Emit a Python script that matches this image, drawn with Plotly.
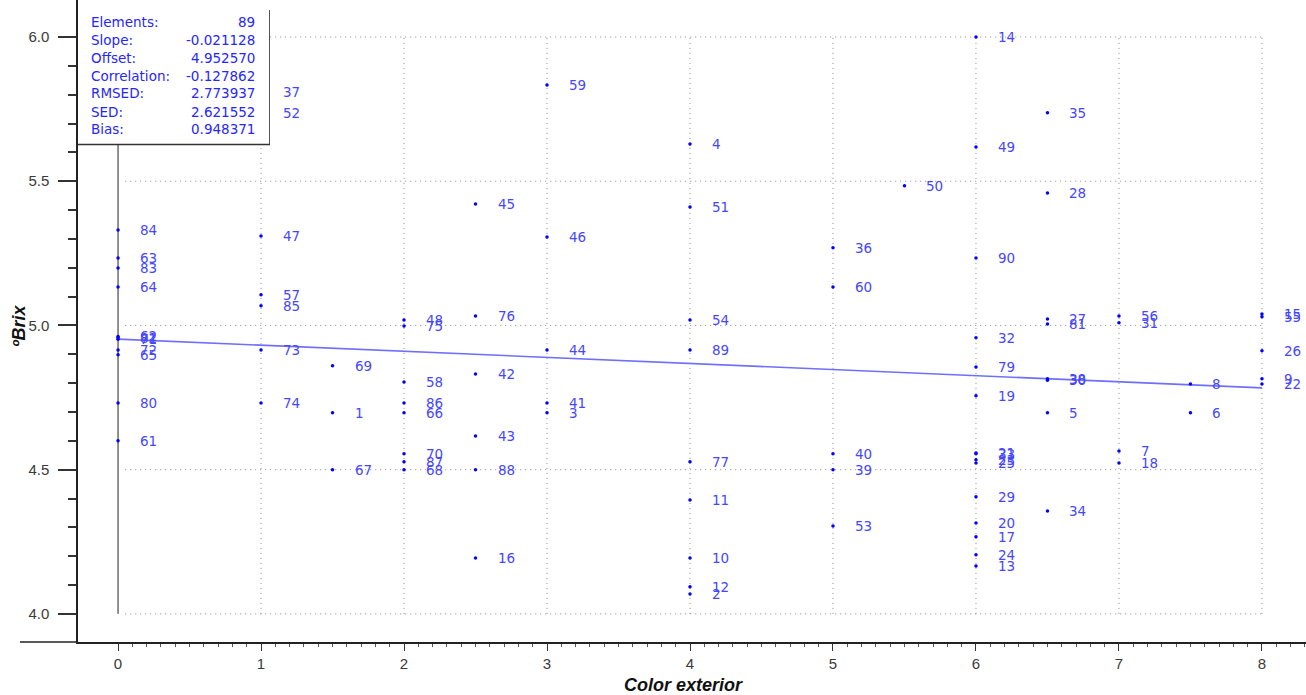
import plotly.graph_objects as go

# ---------------- data ----------------
sample_ids = [84, 63, 83, 64, 62, 82, 71, 72, 65, 80, 61,
              37, 52, 47, 57, 85, 73, 74,
              69, 1, 67,
              48, 75, 58, 86, 66, 70, 87, 68,
              45, 76, 42, 43, 88, 16,
              59, 46, 44, 41, 3,
              4, 51, 54, 89, 77, 11, 10, 12, 2,
              36, 60, 40, 39, 53,
              50,
              14, 49, 90, 32, 79, 19, 21, 33, 23, 25, 29, 20, 17, 24, 13,
              35, 28, 27, 81, 38, 30, 5, 34,
              56, 31, 7, 18,
              8, 6,
              15, 55, 26, 9, 22]
color_exterior = [0, 0, 0, 0, 0, 0, 0, 0, 0, 0, 0,
                  1, 1, 1, 1, 1, 1, 1,
                  1.5, 1.5, 1.5,
                  2, 2, 2, 2, 2, 2, 2, 2,
                  2.5, 2.5, 2.5, 2.5, 2.5, 2.5,
                  3, 3, 3, 3, 3,
                  4, 4, 4, 4, 4, 4, 4, 4, 4,
                  5, 5, 5, 5, 5,
                  5.5,
                  6, 6, 6, 6, 6, 6, 6, 6, 6, 6, 6, 6, 6, 6, 6,
                  6.5, 6.5, 6.5, 6.5, 6.5, 6.5, 6.5, 6.5,
                  7, 7, 7, 7,
                  7.5, 7.5,
                  8, 8, 8, 8, 8]
brix = [5.331, 5.234, 5.199, 5.133, 4.962, 4.958, 4.952, 4.915, 4.898, 4.731, 4.600,
        5.809, 5.737, 5.310, 5.106, 5.068, 4.915, 4.731,
        4.860, 4.697, 4.500,
        5.019, 4.998, 4.804, 4.731, 4.697, 4.555, 4.527, 4.500,
        5.421, 5.033, 4.832, 4.617, 4.500, 4.194,
        5.834, 5.307, 4.915, 4.731, 4.697,
        5.629, 5.411, 5.019, 4.915, 4.527, 4.395, 4.194, 4.094, 4.069,
        5.269, 5.133, 4.555, 4.500, 4.305,
        5.484,
        6.000, 5.619, 5.234, 4.957, 4.856, 4.756, 4.558, 4.555, 4.534, 4.523, 4.406, 4.315, 4.267, 4.205, 4.166,
        5.737, 5.459, 5.022, 5.005, 4.815, 4.810, 4.697, 4.357,
        5.033, 5.009, 4.565, 4.523,
        4.797, 4.697,
        5.040, 5.030, 4.912, 4.815, 4.797]

stat_names = ["Elements:", "Slope:", "Offset:", "Correlation:", "RMSED:", "SED:", "Bias:"]
stat_values = ["89", "-0.021128", "4.952570", "-0.127862", "2.773937", "2.621552", "0.948371"]
slope = -0.021128
offset = 4.952570
fit_x = [0, 8]

x_ticks = [0, 1, 2, 3, 4, 5, 6, 7, 8]
y_ticks = [4.0, 4.5, 5.0, 5.5, 6.0]

# ---------------- layout geometry ----------------
W, H = 1306, 695
ML, MR, MT, MB = 78, 0, 0, 53
PW, PH = W - ML - MR, H - MT - MB
XR = [-0.28, 8.308]
YR = [3.9025, 6.1283]

# minor tick positions (every 0.1 inside the ruled area)
x_minor = [i / 10 for i in range(1, 84) if i % 10 != 0]
y_minor = [i / 10 for i in range(41, 60) if i % 5 != 0]


def px_x(p):
    return (p - ML) / PW


def px_y(p):
    return 1 - (p - MT) / PH


fig = go.Figure()

fig.add_trace(go.Scatter(
    x=fit_x, y=[offset + slope * v for v in fit_x], mode="lines",
    line=dict(color="#6f6fff", width=1.6), hoverinfo="skip", showlegend=False))

fig.add_trace(go.Scatter(
    x=color_exterior, y=brix, mode="markers",
    marker=dict(color="#0000ff", size=3.5, line=dict(width=0)),
    text=[str(s) for s in sample_ids], showlegend=False))

shapes = []
grid_style = dict(color="#8a8a8a", width=1, dash="1px,4px")
for yv in y_ticks:
    shapes.append(dict(type="line", xref="x", yref="y", x0=0.05, x1=8, y0=yv, y1=yv,
                       line=grid_style, layer="below"))
for xv in x_ticks[1:]:
    shapes.append(dict(type="line", xref="x", yref="y", x0=xv, x1=xv, y0=4.0, y1=6.0,
                       line=grid_style, layer="below"))
shapes.append(dict(type="line", xref="x", yref="y", x0=0, x1=0, y0=4.0, y1=6.0,
                   line=dict(color="#222222", width=1), layer="below"))
shapes.append(dict(type="line", xref="paper", yref="paper", x0=px_x(20), x1=0, y0=0, y1=0,
                   line=dict(color="#222222", width=1.5), layer="above"))
shapes.append(dict(type="rect", xref="paper", yref="paper", x0=0, x1=px_x(270),
                   y0=px_y(145), y1=px_y(9), fillcolor="white", line=dict(width=0), layer="above"))
shapes.append(dict(type="line", xref="paper", yref="paper", x0=px_x(269.5), x1=px_x(269.5),
                   y0=px_y(145), y1=px_y(10), line=dict(color="#555555", width=1), layer="above"))
shapes.append(dict(type="line", xref="paper", yref="paper", x0=0, x1=px_x(270),
                   y0=px_y(144.5), y1=px_y(144.5), line=dict(color="#333333", width=1.5), layer="above"))

annotations = []
label_font = dict(family="DejaVu Sans, Verdana, sans-serif", size=13.5, color="#4646ff")
for sid, xv, yv in zip(sample_ids, color_exterior, brix):
    annotations.append(dict(x=xv, y=yv, xref="x", yref="y", text=str(sid), showarrow=False,
                            xanchor="left", yanchor="middle", xshift=20, font=label_font))

stat_font = dict(family="DejaVu Sans, Verdana, sans-serif", size=13.5, color="#2626ff")
for i, (nm, val) in enumerate(zip(stat_names, stat_values)):
    yc = px_y(21.5 + 18 * i)
    annotations.append(dict(x=px_x(89), y=yc, xref="paper", yref="paper", text=nm,
                            showarrow=False, xanchor="left", yanchor="middle", font=stat_font))
    annotations.append(dict(x=px_x(257), y=yc, xref="paper", yref="paper", text=val,
                            showarrow=False, xanchor="right", yanchor="middle", font=stat_font))

title_font = dict(family="Liberation Sans Narrow, Arial Narrow, Liberation Sans, Arial",
                  size=18, color="#111111")
annotations.append(dict(x=px_x(683), y=px_y(685), xref="paper", yref="paper",
                        text="<b><i>Color exterior</i></b>", showarrow=False,
                        xanchor="center", yanchor="middle", font=title_font))
annotations.append(dict(x=px_x(19), y=px_y(326), xref="paper", yref="paper",
                        text="<b><i>ºBrix</i></b>", showarrow=False, textangle=-90,
                        xanchor="center", yanchor="middle", font=title_font))

tick_font = dict(family="Liberation Sans Narrow, Arial Narrow, Liberation Sans, Arial",
                 size=15, color="#3a3a3a")

fig.update_layout(
    width=W, height=H,
    margin=dict(l=ML, r=MR, t=MT, b=MB, pad=0),
    paper_bgcolor="white", plot_bgcolor="white",
    shapes=shapes, annotations=annotations,
    showlegend=False,
    xaxis=dict(range=XR, tickmode="array", tickvals=x_ticks, ticktext=[str(v) for v in x_ticks],
               showgrid=False, zeroline=False, showline=True, linecolor="#222222", linewidth=1.5,
               ticks="outside", ticklen=7, tickcolor="#333333", tickwidth=1,
               tickfont=tick_font,
               minor=dict(tickmode="array", tickvals=x_minor, ticks="outside", ticklen=3,
                          tickcolor="#555555", showgrid=False)),
    yaxis=dict(range=YR, tickmode="array", tickvals=y_ticks, ticktext=[f"{v:.1f}" for v in y_ticks],
               showgrid=False, zeroline=False, showline=True, linecolor="#222222", linewidth=1.5,
               ticks="outside", ticklen=18, tickcolor="#333333", tickwidth=1.5,
               tickfont=tick_font, ticklabelstandoff=6,
               minor=dict(tickmode="array", tickvals=y_minor, ticks="outside", ticklen=8,
                          tickcolor="#333333", tickwidth=1.5, showgrid=False)),
)

fig.write_html("out.html", config={"displayModeBar": False},
               post_script="document.body.style.margin='0';document.body.style.overflow='hidden';")
